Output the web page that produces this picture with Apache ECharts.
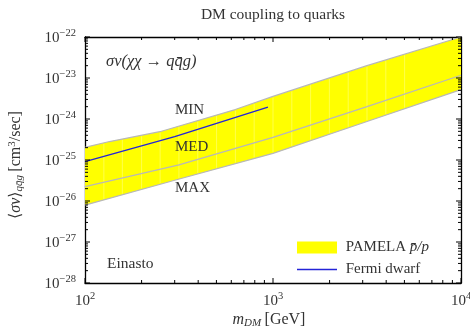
<!DOCTYPE html>
<html><head><meta charset="utf-8">
<script src="https://cdn.jsdelivr.net/npm/echarts@6/dist/echarts.min.js"></script>
<style>html,body{margin:0;padding:0;background:#fff}#c{width:470px;height:329px}#err{position:absolute;left:0;top:0;font:10px monospace;color:red;white-space:pre-wrap;width:460px}</style>
</head><body><div id="c"></div><div id="err"></div>
<script>
// ---- data (cm^3/s, GeV) ----
const massUpper = [100, 135, 250, 630, 1000, 3160, 10000];
const valUpper  = [2.04e-25, 2.82e-25, 4.9e-25, 1.7e-24, 3.55e-24, 2.0e-23, 1.0e-22];
const massMid   = [100, 316, 1000, 3162, 10000];
const valMid    = [2.24e-26, 7.6e-26, 3.55e-25, 2.0e-24, 1.17e-23];
const massLower = [100, 300, 1000, 3162, 10000];
const valLower  = [7.9e-27, 3.2e-26, 1.45e-25, 8.7e-25, 5.2e-24];
const massFermi = [100, 300, 940];
const valFermi  = [9.1e-26, 3.7e-25, 1.95e-24];
const xRange = [100, 10000];
const yRange = [1e-28, 1e-22];
const seamMasses = [126, 158, 200, 251, 316, 398, 501, 631, 794, 1000, 1259, 1585, 1995, 2512, 3162, 3981, 5012];

// ECharts rounds tiny numbers; plot in units of 1e-25 cm^3/s and relabel the exponents.
const UNIT_EXP = -25;
const U = Math.pow(10, -UNIT_EXP);

const FONT = '"Liberation Serif", "DejaVu Serif", serif';
const TXT = '#333';

window.onerror = function (m, s, l, c, e) { document.getElementById('err').textContent += m + ' ' + l + ':' + c + '\n'; };

const chart = echarts.init(document.getElementById('c'), null, {renderer: 'canvas'});

function pair(ms, vs) { return ms.map((m, i) => [m, vs[i] * U]); }
function supX(v) {
  const e = Math.round(Math.log10(v));
  return '{b|10}{e|' + e + '}';
}
function supY(v) {
  const e = Math.round(Math.log10(v)) + UNIT_EXP;
  return '{b|10}{e|' + String(e).replace('-', '\u2212') + '}';
}
const labelRich = {
  b: {fontFamily: FONT, fontSize: 15, color: TXT, lineHeight: 18, verticalAlign: 'bottom'},
  e: {fontFamily: FONT, fontSize: 10.5, color: TXT, lineHeight: 10, verticalAlign: 'top'}
};

function interpY(pts, x) {
  for (let i = 0; i < pts.length - 1; i++) {
    const a = pts[i], b = pts[i + 1];
    if (x >= a[0] && x <= b[0]) {
      const t = (x - a[0]) / (b[0] - a[0]);
      return a[1] + t * (b[1] - a[1]);
    }
  }
  return null;
}

function bandItem(params, api) {
  const up = massUpper.map((m, i) => api.coord([m, valUpper[i] * U]));
  const lo = massLower.map((m, i) => api.coord([m, valLower[i] * U]));
  const pts = up.concat(lo.slice().reverse());
  const children = [{type: 'polygon', shape: {points: pts}, style: {fill: '#ffff00'}}];
  seamMasses.forEach(m => {
    const x = api.coord([m, 1])[0];
    const y1 = interpY(up, x), y2 = interpY(lo, x);
    if (y1 != null && y2 != null) {
      children.push({type: 'line', shape: {x1: x, y1: y1 + 1, x2: x, y2: y2 - 1},
        style: {stroke: 'rgba(255,255,255,0.3)', lineWidth: 1}});
    }
  });
  return {type: 'group', children};
}

function tickItem(params, api) {
  const children = [];
  const y0 = yRange[0] * U, y1v = yRange[1] * U;
  const xl = api.coord([xRange[0], y0])[0];
  const xr = api.coord([xRange[1], y0])[0];
  const yb = api.coord([xRange[0], y0])[1];
  const yt = api.coord([xRange[0], y1v])[1];
  const st = {stroke: '#000', lineWidth: 1};
  const e0 = Math.round(Math.log10(y0)), e1 = Math.round(Math.log10(y1v));
  for (let e = e0; e <= e1; e++) {
    for (let k = 1; k <= 9; k++) {
      if (e === e1 && k > 1) break;
      const y = api.coord([xRange[0], k * Math.pow(10, e)])[1];
      const len = k === 1 ? 5 : 3;
      children.push({type: 'line', shape: {x1: xl, y1: y, x2: xl + len, y2: y}, style: st});
      children.push({type: 'line', shape: {x1: xr, y1: y, x2: xr - len, y2: y}, style: st});
    }
  }
  for (let e = 2; e <= 4; e++) {
    for (let k = 1; k <= 9; k++) {
      if (e === 4 && k > 1) break;
      const x = api.coord([k * Math.pow(10, e), y0])[0];
      const len = k === 1 ? 5 : 3;
      children.push({type: 'line', shape: {x1: x, y1: yb, x2: x, y2: yb - len}, style: st});
      children.push({type: 'line', shape: {x1: x, y1: yt, x2: x, y2: yt + len}, style: st});
    }
  }
  return {type: 'group', children};
}

const axisLine = {show: true, lineStyle: {color: '#000', width: 1.3}};
const grayLine = {color: '#b8b8b8', width: 1.2};

const option = {
  animation: false,
  backgroundColor: '#fff',
  grid: {left: 85, right: 9, top: 37, bottom: 46, containLabel: false, outerBoundsMode: 'none'},
  xAxis: [
    {type: 'log', logBase: 10, min: xRange[0], max: xRange[1], splitNumber: 2, position: 'bottom',
     axisLine, axisTick: {show: false}, splitLine: {show: false},
     axisLabel: {margin: 8, formatter: v => supX(v), rich: labelRich}},
    {type: 'log', logBase: 10, min: xRange[0], max: xRange[1], splitNumber: 2, position: 'top',
     axisLine, axisTick: {show: false}, splitLine: {show: false}, axisLabel: {show: false}}
  ],
  yAxis: [
    {type: 'log', logBase: 10, min: yRange[0] * U, max: yRange[1] * U, splitNumber: 6, position: 'left',
     axisLine, axisTick: {show: false}, splitLine: {show: false},
     axisLabel: {margin: 9, formatter: v => supY(v), rich: labelRich}},
    {type: 'log', logBase: 10, min: yRange[0] * U, max: yRange[1] * U, splitNumber: 6, position: 'right',
     axisLine, axisTick: {show: false}, splitLine: {show: false}, axisLabel: {show: false}}
  ],
  legend: {
    orient: 'vertical', left: 297, top: 240, padding: 0, itemGap: 7,
    itemWidth: 40, itemHeight: 12, selectedMode: false,
    data: [
      {name: 'PAMELA', icon: 'rect'},
      {name: 'Fermi dwarf', icon: 'path://M0,0H40V1.6H0Z'}
    ],
    formatter: n => n === 'PAMELA' ? '{n| PAMELA }{i|p\u0304/p}' : '{n| Fermi dwarf}',
    textStyle: {fontFamily: FONT, fontSize: 15, color: TXT,
      rich: {n: {fontFamily: FONT, fontSize: 15, color: TXT},
             i: {fontFamily: FONT, fontSize: 15, fontStyle: 'italic', color: TXT}}}
  },
  series: [
    {name: 'PAMELA', type: 'custom', renderItem: bandItem, data: [[1000, 1]],
     itemStyle: {color: '#ffff00'}, silent: true, z: 1},
    {name: 'upper', type: 'line', data: pair(massUpper, valUpper), showSymbol: false,
     lineStyle: grayLine, color: '#b8b8b8', silent: true, z: 2},
    {name: 'mid', type: 'line', data: pair(massMid, valMid), showSymbol: false,
     lineStyle: grayLine, color: '#b8b8b8', silent: true, z: 2},
    {name: 'lower', type: 'line', data: pair(massLower, valLower), showSymbol: false,
     lineStyle: grayLine, color: '#b8b8b8', silent: true, z: 2},
    {name: 'Fermi dwarf', type: 'line', data: pair(massFermi, valFermi), showSymbol: false,
     color: '#2424d8', lineStyle: {color: '#2424d8', width: 1.3}, silent: true, z: 3},
    {name: 'ticks', type: 'custom', renderItem: tickItem, data: [[1000, 1]], silent: true, z: 4}
  ],
  graphic: {elements: [
    {type: 'text', z: 100, x: 273, y: 15, style: {text: 'DM coupling to quarks', fontFamily: FONT, fontSize: 15.5,
      fill: TXT, align: 'center', verticalAlign: 'middle'}},
    {type: 'text', z: 100, x: 106, y: 62, style: {text: '\u03c3v(\u03c7\u03c7 \u2192 qq\u0304g)', fontFamily: FONT,
      fontSize: 16.5, fontStyle: 'italic', fill: TXT, align: 'left', verticalAlign: 'middle'}},
    {type: 'text', z: 100, x: 175, y: 110, style: {text: 'MIN', fontFamily: FONT, fontSize: 15, fill: TXT, verticalAlign: 'middle'}},
    {type: 'text', z: 100, x: 175, y: 147, style: {text: 'MED', fontFamily: FONT, fontSize: 15, fill: TXT, verticalAlign: 'middle'}},
    {type: 'text', z: 100, x: 175, y: 188, style: {text: 'MAX', fontFamily: FONT, fontSize: 15, fill: TXT, verticalAlign: 'middle'}},
    {type: 'text', z: 100, x: 107, y: 264, style: {text: 'Einasto', fontFamily: FONT, fontSize: 15.5, fill: TXT, verticalAlign: 'middle'}},
    {type: 'text', z: 100, x: 269, y: 320, style: {
      text: '{i|m}{s|DM} {n|[GeV]}', align: 'center', verticalAlign: 'middle',
      rich: {i: {fontFamily: FONT, fontSize: 16, fontStyle: 'italic', fill: TXT, lineHeight: 18, verticalAlign: 'middle'},
             s: {fontFamily: FONT, fontSize: 11, fontStyle: 'italic', fill: TXT, lineHeight: 8, verticalAlign: 'bottom'},
             n: {fontFamily: FONT, fontSize: 16, fill: TXT, lineHeight: 18, verticalAlign: 'middle'}}}},
    {type: 'text', z: 100, x: 16, y: 165, rotation: Math.PI / 2, style: {
      text: '{n|\u27e8}{i|\u03c3v}{n|\u27e9}{s|qq\u0304g} {n|[cm}{e|3}{n|/sec]}', align: 'center', verticalAlign: 'middle',
      rich: {i: {fontFamily: FONT, fontSize: 16, fontStyle: 'italic', fill: TXT, lineHeight: 18, verticalAlign: 'middle'},
             s: {fontFamily: FONT, fontSize: 11, fontStyle: 'italic', fill: TXT, lineHeight: 8, verticalAlign: 'bottom'},
             e: {fontFamily: FONT, fontSize: 11, fill: TXT, lineHeight: 8, verticalAlign: 'top'},
             n: {fontFamily: FONT, fontSize: 16, fill: TXT, lineHeight: 18, verticalAlign: 'middle'}}}}
  ]}
};
try { chart.setOption(option); } catch (e) { document.getElementById('err').textContent += 'ERR ' + e.message + '\n' + e.stack; }
</script>
</body></html>
